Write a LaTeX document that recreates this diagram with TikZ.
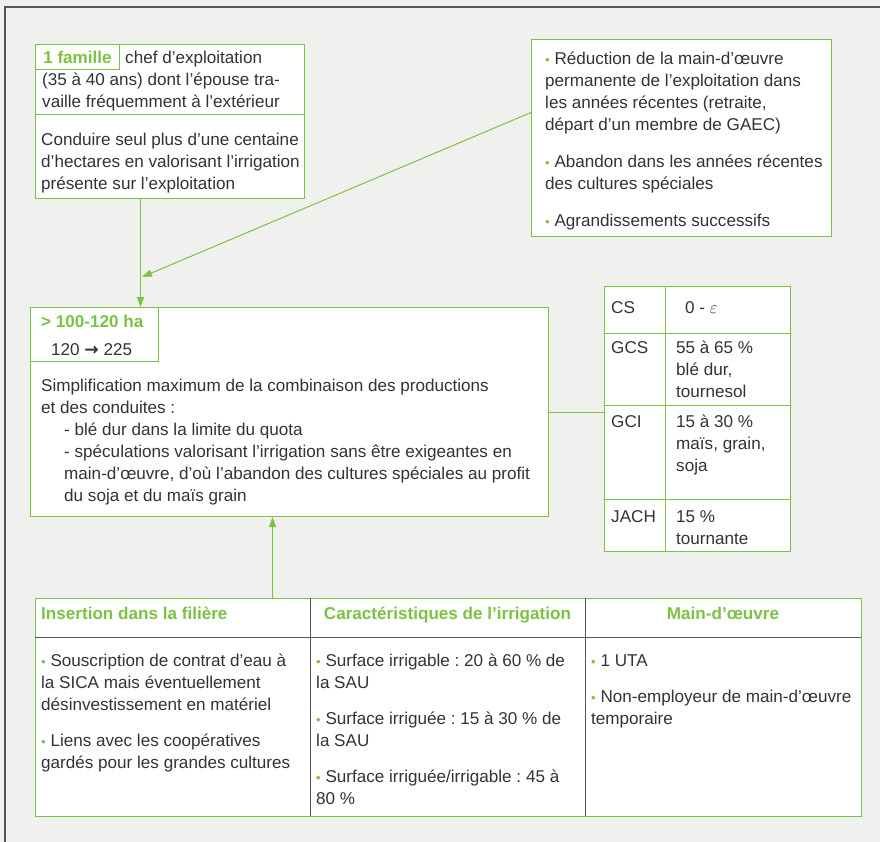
\documentclass[tikz,border=0pt]{standalone}
\usepackage{fontspec}
\setmainfont{Liberation Sans}
\newfontfamily\symbfont{DejaVu Sans}
\usetikzlibrary{arrows.meta}
\usetikzlibrary{positioning}
\usepackage{xcolor}
\definecolor{leaf}{HTML}{7DC242}
\definecolor{ink}{HTML}{333333}
\definecolor{paper}{HTML}{F0F0EE}
\definecolor{rim}{HTML}{55555A}
\newcommand{\puce}{{\color{leaf}\fontsize{13}{13}\selectfont •}\ }
\newcommand{\sk}{\rule{0pt}{16pt}}
\frenchspacing

\begin{document}
\begin{tikzpicture}[x=1pt, y=-1pt,
  box/.style={draw=leaf, line width=1pt, fill=white, inner sep=0pt, anchor=north west},
  txt/.style={anchor=north west, inner sep=0pt, align=left, text=ink,
    font=\fontsize{17.1}{22}\selectfont},
  hd/.style={txt, text=leaf, font=\fontsize{17.1}{22}\selectfont\bfseries},
  link/.style={draw=leaf, line width=1pt},
  arr/.style={link, -{Triangle[length=10pt,width=7pt]}}]
\fill[paper] (0,0) rectangle (880,842);
\useasboundingbox (0,0) rectangle (880,842);
\draw[rim, line width=1.3pt] (5,842) -- (5,7) -- (880,7);

% famille
\node[box, minimum width=269pt, minimum height=154pt] (famille) at (35,44) {};
\node[box, minimum width=84pt, minimum height=25pt, text=leaf, font=\fontsize{17.1}{22}\selectfont\bfseries] (famtag) at (35,44) {1 famille};
\draw[link] (35,115) -- (304,115);
\node[txt] (chef) at (125,47) {\sk chef d’exploitation};
\node[txt] (age) at (42,69) {\sk(35 à 40 ans) dont l’épouse tra-\\vaille fréquemment à l’extérieur};
\node[txt] (projet) at (41,129) {\sk Conduire seul plus d’une centaine\\d’hectares en valorisant l’irrigation\\présente sur l’exploitation};

% evolution
\node[box, minimum width=300pt, minimum height=197pt] (evol) at (531,39) {};
\node[txt] (evoltxt) at (545,48) {\sk\puce Réduction de la main-d’œuvre\\permanente de l’exploitation dans\\les années récentes (retraite,\\départ d’un membre de GAEC)\\[15pt]\puce Abandon dans les années récentes\\des cultures spéciales\\[15pt]\puce Agrandissements successifs};

% exploitation
\node[box, minimum width=518pt, minimum height=209pt] (exploit) at (30,307) {};
\node[box, minimum width=128pt, minimum height=54pt] (surface) at (30,307) {};
\node[hd] (sau) at (41,311) {\sk> 100-120 ha};
\node[txt] (sauevol) at (51,339) {\sk 120 {\symbfont\bfseries →} 225};
\node[txt] (simpl) at (41,375) {\sk Simplification maximum de la combinaison des productions\\et des conduites :};
\node[txt] (choix) at (64,419) {\sk- blé dur dans la limite du quota\\- spéculations valorisant l’irrigation sans être exigeantes en\\main-d’œuvre, d’où l’abandon des cultures spéciales au profit\\du soja et du maïs grain};

% assolement
\node[box, minimum width=186pt, minimum height=265pt] (assol) at (604,286) {};
\draw[link] (665,286) -- (665,551);
\foreach \y in {333,405,499}
  \draw[link] (604,\y) -- (790,\y);
\node[txt] (cs) at (611,297) {\sk CS};
\node[txt] (csv) at (685,297) {\sk 0 - $\varepsilon$};
\node[txt] (gcs) at (611,337) {\sk GCS};
\node[txt] (gcsv) at (676,337) {\sk 55 à 65 \%\\blé dur,\\tournesol};
\node[txt] (gci) at (611,411) {\sk GCI};
\node[txt] (gciv) at (676,411) {\sk 15 à 30 \%\\maïs, grain,\\soja};
\node[txt] (jach) at (611,506) {\sk JACH};
\node[txt] (jachv) at (676,506) {\sk 15 \%\\tournante};

% filiere, irrigation, main-d'oeuvre
\node[box, minimum width=826pt, minimum height=218pt] (filiere) at (35,598) {};
\draw[rim, line width=0.8pt] (35,637) -- (861,637);
\foreach \x in {310,585}
  \draw[rim, line width=0.6pt] (\x,598) -- (\x,816);
\node[hd] (h1) at (41,603) {\sk Insertion dans la filière};
\node[hd, anchor=north] (h2) at (447.5,603) {\sk Caractéristiques de l’irrigation};
\node[hd, anchor=north] (h3) at (723,603) {\sk Main-d’œuvre};
\node[txt] (c1) at (41,650) {\sk\puce Souscription de contrat d’eau à\\la SICA mais éventuellement\\désinvestissement en matériel\\[14pt]\puce Liens avec les coopératives\\gardés pour les grandes cultures};
\node[txt] (c2) at (316,650) {\sk\puce Surface irrigable : 20 à 60 \% de\\la SAU\\[14pt]\puce Surface irriguée : 15 à 30 \% de\\la SAU\\[14pt]\puce Surface irriguée/irrigable : 45 à\\80 \%};
\node[txt] (c3) at (591,650) {\sk\puce 1 UTA\\[14pt]\puce Non-employeur de main-d’œuvre\\temporaire};

% liens
\coordinate (evolto) at (142,277);
\draw[arr] ([xshift=-29.5pt]famille.south) -- ([xshift=-29.5pt]famille.south |- exploit.north);
\draw[arr] ([yshift=25.5pt]evol.west) -- (evolto);
\draw[arr] ([xshift=-176pt]filiere.north) -- ([xshift=-176pt]filiere.north |- exploit.south);
\draw[link] (exploit.east) -- (exploit.east -| assol.west);
\end{tikzpicture}
\end{document}
